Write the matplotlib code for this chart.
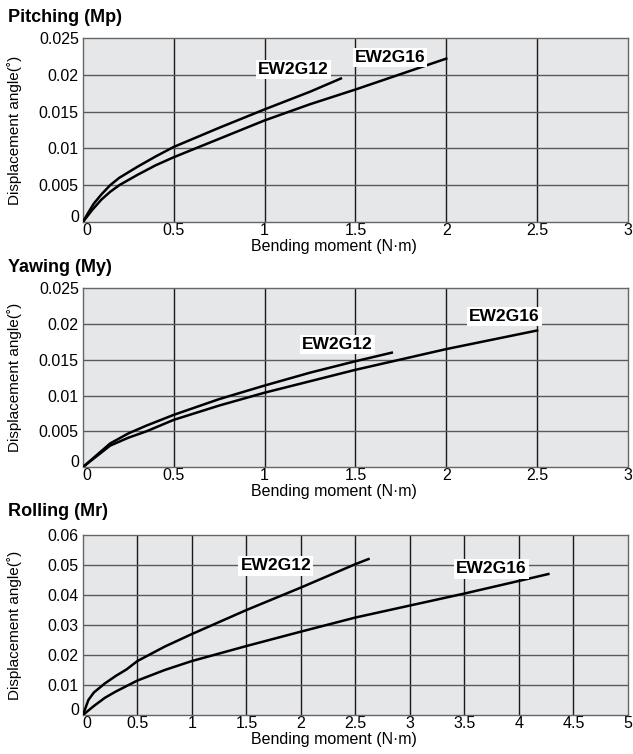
import matplotlib.pyplot as plt
import matplotlib.transforms as mtransforms

plt.rcParams['font.family'] = ['Liberation Sans', 'DejaVu Sans']

# Pitching (Mp)
pitch_x12 = [0, 0.03, 0.06, 0.1, 0.15, 0.2, 0.3, 0.4, 0.5, 0.75, 1.0, 1.25, 1.42]
pitch_y12 = [0, 0.0013, 0.0025, 0.0037, 0.005, 0.006, 0.0075, 0.0089, 0.0102, 0.0128, 0.0153, 0.0177, 0.0195]
pitch_x16 = [0, 0.05, 0.1, 0.15, 0.2, 0.3, 0.4, 0.5, 0.75, 1.0, 1.25, 1.5, 1.75, 2.0]
pitch_y16 = [0, 0.0016, 0.003, 0.0041, 0.005, 0.0064, 0.0077, 0.0088, 0.0113, 0.0138, 0.016, 0.018, 0.0201, 0.0222]

# Yawing (My)
yaw_x12 = [0, 0.15, 0.25, 0.35, 0.5, 0.75, 1.0, 1.25, 1.5, 1.7]
yaw_y12 = [0, 0.0033, 0.0047, 0.0058, 0.0073, 0.0095, 0.0114, 0.0132, 0.0148, 0.016]
yaw_x16 = [0, 0.15, 0.25, 0.35, 0.5, 0.75, 1.0, 1.5, 2.0, 2.5]
yaw_y16 = [0, 0.003, 0.0041, 0.005, 0.0066, 0.0086, 0.0104, 0.0136, 0.0165, 0.0191]

# Rolling (Mr)
roll_x12 = [0, 0.05, 0.1, 0.2, 0.3, 0.4, 0.5, 0.75, 1.0, 1.5, 2.0, 2.5, 2.62]
roll_y12 = [0, 0.005, 0.0075, 0.0105, 0.013, 0.0152, 0.018, 0.0228, 0.027, 0.035, 0.0425, 0.0503, 0.052]
roll_x16 = [0, 0.1, 0.2, 0.3, 0.5, 0.75, 1.0, 1.5, 2.0, 2.5, 3.0, 3.5, 4.0, 4.27]
roll_y16 = [0, 0.003, 0.0057, 0.0078, 0.0115, 0.015, 0.018, 0.023, 0.0278, 0.0325, 0.0365, 0.0405, 0.0447, 0.047]

panels = [
    dict(title='Pitching (Mp)', xs=(pitch_x12, pitch_x16), ys=(pitch_y12, pitch_y16),
         xmax=3, xstep=0.5, ymax=0.025, ystep=0.005,
         xticks=['0', '0.5', '1', '1.5', '2', '2.5', '3'],
         yticks=['0', '0.005', '0.01', '0.015', '0.02', '0.025'],
         labels=[(1.16, 0.0207), (1.69, 0.0224)],
         rect=[0.131, 0.7056, 0.861, 0.244], ty=17),
    dict(title='Yawing (My)', xs=(yaw_x12, yaw_x16), ys=(yaw_y12, yaw_y16),
         xmax=3, xstep=0.5, ymax=0.025, ystep=0.005,
         xticks=['0', '0.5', '1', '1.5', '2', '2.5', '3'],
         yticks=['0', '0.005', '0.01', '0.015', '0.02', '0.025'],
         labels=[(1.40, 0.0172), (2.32, 0.0211)],
         rect=[0.131, 0.3806, 0.861, 0.237], ty=267),
    dict(title='Rolling (Mr)', xs=(roll_x12, roll_x16), ys=(roll_y12, roll_y16),
         xmax=5, xstep=0.5, ymax=0.06, ystep=0.01,
         xticks=['0', '0.5', '1', '1.5', '2', '2.5', '3', '3.5', '4', '4.5', '5'],
         yticks=['0', '0.01', '0.02', '0.03', '0.04', '0.05', '0.06'],
         labels=[(1.77, 0.0497), (3.75, 0.0487)],
         rect=[0.131, 0.0517, 0.861, 0.2387], ty=512),
]
names = ['EW2G12', 'EW2G16']

fig = plt.figure(figsize=(6.33, 7.54), dpi=100)

for p in panels:
    ax = fig.add_axes(p['rect'])
    ax.set_facecolor('#e6e7e9')
    xt = [i * p['xstep'] for i in range(len(p['xticks']))]
    yt = [i * p['ystep'] for i in range(len(p['yticks']))]
    for v in xt[1:-1]:
        ax.axvline(v, color='#1a1a1a', lw=1.0, zorder=1)
    for v in yt[1:-1]:
        ax.axhline(v, color='#5a5a5a', lw=1.0, zorder=1)
    for x, y in zip(p['xs'], p['ys']):
        ax.plot(x, y, color='black', lw=1.8, zorder=3)
    for name, (lx, ly) in zip(names, p['labels']):
        ax.text(lx, ly, name, ha='center', va='center', fontsize=12.5, fontweight='bold',
                zorder=4, bbox=dict(facecolor='white', edgecolor='none', pad=1.5))
    ax.set_xlim(0, p['xmax'])
    ax.set_ylim(0, p['ymax'])
    ax.set_xticks(xt)
    ax.set_xticklabels(p['xticks'], fontsize=11.5)
    ax.set_yticks(yt)
    ax.set_yticklabels(p['yticks'], fontsize=11.5)
    ax.tick_params(axis='x', length=0, pad=1)
    ax.tick_params(axis='y', length=0, pad=3)
    # nudge the two "0" labels at the origin apart, as in the reference
    ax.get_yticklabels()[0].set_transform(ax.get_yticklabels()[0].get_transform() +
                                          mtransforms.ScaledTranslation(0, 4 / 72, fig.dpi_scale_trans))
    ax.get_xticklabels()[0].set_transform(ax.get_xticklabels()[0].get_transform() +
                                          mtransforms.ScaledTranslation(3 / 72, 0, fig.dpi_scale_trans))
    for s in ax.spines.values():
        s.set_color('#666666')
        s.set_linewidth(1.0)
    h = p['rect'][3] * 754
    ax.set_xlabel('Bending moment (N·m)', fontsize=11.5, va='top')
    ax.xaxis.set_label_coords(0.46, -17 / h)
    ax.set_ylabel('Displacement angle(˚)', fontsize=11)
    ax.yaxis.set_label_coords(-0.112, 0.5)
    fig.text(8 / 633, 1 - p['ty'] / 754, p['title'], fontsize=13, fontweight='bold',
             ha='left', va='center')

fig.savefig('out.png', dpi=100)
